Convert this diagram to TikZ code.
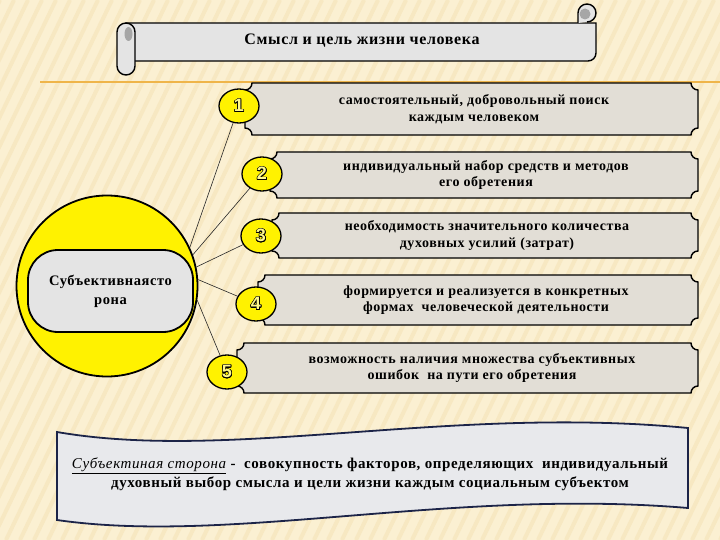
\documentclass[tikz,border=0pt]{standalone}
\usepackage{fontspec}
\setmainfont{Liberation Serif}
\setsansfont{Liberation Sans}
\newfontfamily\wideserif[LetterSpace=4]{Liberation Serif}
\usepackage{contour}
\contourlength{0.6pt}
\usetikzlibrary{shapes.geometric}
\definecolor{cream}{HTML}{FBF0D2}
\definecolor{stripe}{HTML}{F7E8C2}
\definecolor{orangeline}{HTML}{EFB54A}
\definecolor{plaquegray}{HTML}{E2DED6}
\definecolor{scrollgray}{HTML}{E4E4E4}
\definecolor{ribbongray}{HTML}{E8E9EC}
\definecolor{ribbonblue}{HTML}{1C2448}
\tikzset{
	plaque/.style={draw=black, line width=1.4pt, fill=plaquegray},
	plaquetext/.style={align=center, inner sep=0pt,
			font=\wideserif\bfseries\fontsize{14}{16.5}\selectfont},
	numdot/.style={ellipse, draw=black, line width=1.3pt, fill=yellow,
			minimum width=40pt, minimum height=34pt, inner sep=0pt,
			font=\sffamily\bfseries\fontsize{18}{18}\selectfont},
	spoke/.style={line width=0.6pt, black!85}
}
\newcommand{\dotnum}[1]{\contour{black}{\textcolor{yellow!45!white}{#1}}}

\begin{document}
\begin{tikzpicture}[x=1pt, y=1pt]
	\useasboundingbox (0,0) rectangle (720,-540);
	\fill[cream] (0,0) rectangle (720,-540);
	\begin{scope}
		\clip (0,0) rectangle (720,-540);
		\foreach \s in {0,14,...,1100}
			\draw[stripe, line width=4pt] (\s-260,-540) -- (\s,0);
	\end{scope}
	\draw[orangeline, line width=2.5pt] (40,-82) -- (720,-82);

	% title scroll
	\draw[fill=scrollgray, line width=1.4pt] (126,-23) -- (596,-23)
		{[rounded corners=8pt] -- (596,-61) -- (126,-61)} -- cycle;
	\draw[fill=scrollgray, line width=1.4pt] (578,-23) -- (578,-13) arc (180:-90:9) -- (587,-22);
	\fill[black!35] (585,-14) circle (5.5);
	\draw[fill=scrollgray, line width=1.4pt, rounded corners=9pt] (117,-23) rectangle (135,-75);
	\fill[black!35] (128.5,-34) ellipse (4 and 7);
	\node (title) at (362,-41) {\wideserif\bfseries\fontsize{16}{18}\selectfont Смысл и цель жизни человека};

	% plaques
	\def\notch{7}
	\foreach \n/\xa/\ya/\yb/\tx/\txt in {
			1/245/83/135/474/{самостоятельный, добровольный поиск\\каждым человеком},
			2/270/152/198/486/{индивидуальный набор средств и методов\\его обретения},
			3/272/213/258/487/{необходимость значительного количества\\духовных усилий (затрат)},
			4/258/275/325/486/{формируется и реализуется в конкретных\\формах \ человеческой деятельности},
			5/237/343/393/472/{возможность наличия множества субъективных\\ошибок \ на пути его обретения}} {
		\draw[plaque] (\xa+\notch,-\ya) -- (698-\notch,-\ya) arc (180:270:\notch)
			-- (698,-\yb+\notch) arc (90:180:\notch)
			-- (\xa+\notch,-\yb) arc (0:90:\notch)
			-- (\xa,-\ya-\notch) arc (270:360:\notch) -- cycle;
		\node[plaquetext] (b\n) at (\tx,{-(\ya+\yb)/2}) {\txt};
	}

	% numbered dots
	\node[numdot] (n1) at (239,-106) {\dotnum{1}};
	\node[numdot] (n2) at (262,-174) {\dotnum{2}};
	\node[numdot] (n3) at (261,-236) {\dotnum{3}};
	\node[numdot] (n4) at (256,-304) {\dotnum{4}};
	\node[numdot] (n5) at (227,-372) {\dotnum{5}};

	% subjective side
	\node[circle, draw=black, line width=1.8pt, fill=yellow, minimum size=181pt] (yc) at (107,-286) {};
	\node[draw=black, line width=1.8pt, fill=scrollgray, rounded corners=30pt,
		minimum width=165pt, minimum height=82pt, align=center,
		font=\wideserif\bfseries\fontsize{14.5}{19}\selectfont] (side) at (110.5,-291) {Субъективнаясто\\рона};
	\draw[spoke] (yc.25) -- (n1);
	\draw[spoke] (yc.20) -- (n2);
	\draw[spoke] (yc.12) -- (n3);
	\draw[spoke] (yc.4) -- (n4);
	\draw[spoke] (yc.-9) -- (n5);

	% definition ribbon
	\draw[fill=ribbongray, draw=ribbonblue, line width=1.8pt] (57,-432)
		.. controls (230,-462) and (450,-405) .. (688,-428) -- (688,-508)
		.. controls (450,-488) and (230,-545) .. (57,-520) -- cycle;
	\node[align=center, font=\wideserif\bfseries\fontsize{15}{19}\selectfont] (def) at (370,-474)
		{{\mdseries\itshape\underline{Субъектиная сторона}} - \ совокупность факторов, определяющих \ индивидуальный\\
		духовный выбор смысла и цели жизни каждым социальным субъектом};
\end{tikzpicture}
\end{document}
